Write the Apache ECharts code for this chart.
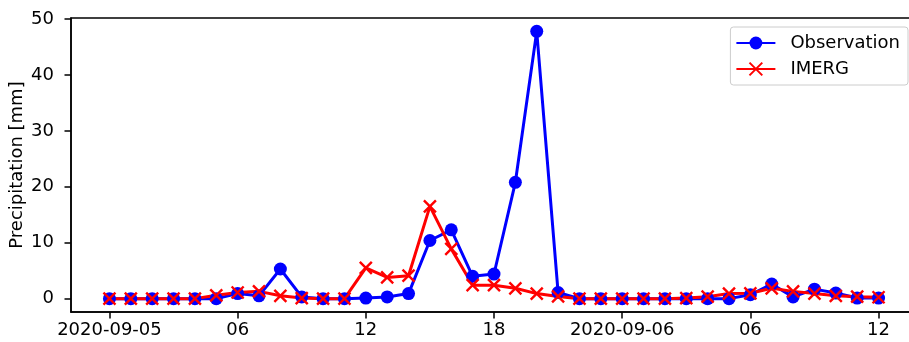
<!DOCTYPE html>
<html><head><meta charset="utf-8">
<script src="https://cdn.jsdelivr.net/npm/echarts@6/dist/echarts.min.js"></script>
<style>html,body{margin:0;padding:0;background:#fff}#c{width:909px;height:342px}</style>
</head><body><div id="c"></div>
<script>
// hours since 2020-09-05 00:00
const hours = [0,1,2,3,4,5,6,7,8,9,10,11,12,13,14,15,16,17,18,19,20,21,22,23,24,25,26,27,28,29,30,31,32,33,34,35,36];
const observation = [0,0,0,0,0,0,0.9,0.5,5.3,0.3,0,0,0.1,0.3,0.9,10.4,12.3,4.0,4.4,20.8,47.8,1.1,0,0,0,0,0,0,0,0,0.7,2.6,0.3,1.7,1.0,0.1,0.1];
const imerg = [0,0,0,0,0,0.6,1.1,1.3,0.5,0.1,0,0,5.5,3.8,4.1,16.5,8.9,2.4,2.4,1.85,0.9,0.4,0,0,0,0,0,0.1,0.35,0.9,0.95,1.85,1.3,0.9,0.5,0.35,0.25];
const xTickValues = [0,6,12,18,24,30,36];
const xTickLabels = ['2020-09-05','06','12','18','2020-09-06','06','12'];
const yTickValues = [0,10,20,30,40,50];

const FONT = 'DejaVu Sans';
const chart = echarts.init(document.getElementById('c'), null, {renderer:'canvas'});
const crossPath = 'path://M0,0L10,10M10,0L0,10';
chart.setOption({
  animation:false,
  textStyle:{fontFamily:FONT},
  grid:{left:71, top:18, width:846, height:294, containLabel:false, outerBoundsMode:'none',
    show:true, borderColor:'#000', borderWidth:1.5, backgroundColor:'transparent'},
  legend:{
    right:1, top:27, orient:'vertical',
    backgroundColor:'#fff', borderColor:'#ccc', borderWidth:1, borderRadius:3,
    padding:[7,8,7,5], itemGap:8, itemWidth:39, itemHeight:16,
    textStyle:{fontFamily:FONT, fontSize:18, lineHeight:18, color:'#000', padding:[0,0,0,10]},
    data:['Observation','IMERG']
  },
  xAxis:{
    type:'value', min:-1.8, max:37.8,
    splitLine:{show:false},
    axisLine:{show:true, onZero:false, lineStyle:{color:'#000', width:1.5}},
    axisTick:{show:true, length:6.5, customValues:xTickValues, lineStyle:{color:'#000', width:1.5}},
    axisLabel:{customValues:xTickValues, margin:9, fontSize:18, color:'#000', fontFamily:FONT,
      formatter:function(v){const i=xTickValues.indexOf(v);return i>=0?xTickLabels[i]:'';}}
  },
  yAxis:{
    type:'value', min:-2.39, max:50.19,
    name:'Precipitation [mm]', nameLocation:'middle', nameGap:45, nameRotate:90, nameMoveOverlap:false,
    nameTextStyle:{fontFamily:FONT, fontSize:18, color:'#000'},
    splitLine:{show:false},
    axisLine:{show:true, onZero:false, lineStyle:{color:'#000', width:1.5}},
    axisTick:{show:true, length:6.5, customValues:yTickValues, lineStyle:{color:'#000', width:1.5}},
    axisLabel:{customValues:yTickValues, margin:17, fontSize:18, color:'#000', fontFamily:FONT}
  },
  series:[
    {name:'Observation', type:'line', data:hours.map((h,i)=>[h,observation[i]]),
      symbol:'circle', symbolSize:13, showAllSymbol:true,
      lineStyle:{color:'#0000ff', width:3}, itemStyle:{color:'#0000ff'}},
    {name:'IMERG', type:'line', data:hours.map((h,i)=>[h,imerg[i]]),
      symbol:crossPath, symbolSize:12, showAllSymbol:true,
      lineStyle:{color:'#ff0000', width:3}, itemStyle:{color:'#ff0000', borderColor:'#ff0000', borderWidth:2.4}}
  ]
});
</script></body></html>
